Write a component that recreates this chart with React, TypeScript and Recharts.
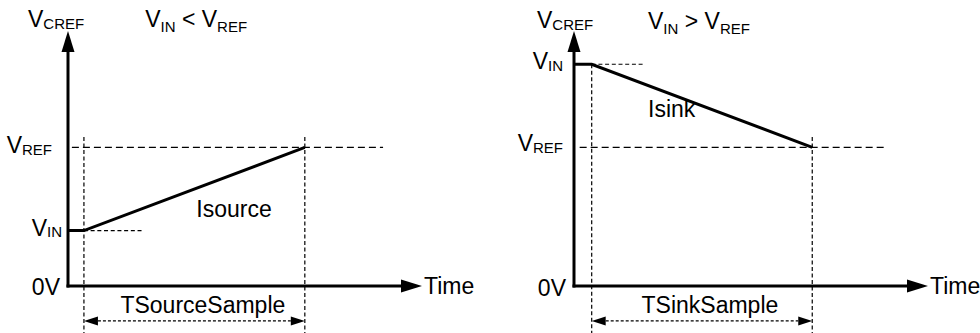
import React from 'react';
import { ComposedChart, Line, XAxis, YAxis, ReferenceLine, ReferenceDot } from 'recharts';

const FONT = '"Liberation Sans", Arial, Helvetica, sans-serif';
const MAIN_SIZE = 23;
const SUB_SIZE = 15;

// Shared value space (arbitrary units)
const TIME_MAX = 10;
const VOLT_MAX = 4.6;
const GUIDE_BOTTOM = -0.85;
const DIM_LEVEL = -0.63;

// Left panel: V_IN < V_REF (source current charges the node up)
const SOURCE_WAVE = [
  { t: 0, v: 1.0 },
  { t: 0.45, v: 1.0 },
  { t: 6.69, v: 2.5 },
];
const SOURCE_TICKS = [0, 1.0, 2.5];
const SOURCE_TICK_LABELS = [['0V', ''], ['V', 'IN'], ['V', 'REF']];
const SOURCE_VIN_GUIDE = [0.45, 2.12];
const SOURCE_VREF_GUIDE = [0.11, 8.9];
const SOURCE_SAMPLE = [0.45, 6.69];
const SOURCE_GUIDE_TOPS = [2.69, 2.69];
const SOURCE_TITLE = ['V', 'IN', ' < V', 'REF'];
const SOURCE_TITLE_AT = [2.18, 4.67];
const SOURCE_CURRENT = 'Isource';
const SOURCE_CURRENT_AT = [4.69, 1.25];
const SOURCE_SAMPLE_LABEL = 'TSourceSample';
const SOURCE_SAMPLE_LABEL_AT = [3.81, -0.49];

// Right panel: V_IN > V_REF (sink current discharges the node)
const SINK_WAVE = [
  { t: 0, v: 4.0 },
  { t: 0.5, v: 4.0 },
  { t: 6.73, v: 2.5 },
];
const SINK_TICKS = [0, 2.5, 4.0];
const SINK_TICK_LABELS = [['0V', ''], ['V', 'REF'], ['V', 'IN']];
const SINK_VIN_GUIDE = [0.5, 2.0];
const SINK_VREF_GUIDE = [0.16, 8.86];
const SINK_SAMPLE = [0.5, 6.73];
const SINK_GUIDE_TOPS = [4.0, 2.69];
const SINK_TITLE = ['V', 'IN', ' > V', 'REF'];
const SINK_TITLE_AT = [2.09, 4.64];
const SINK_CURRENT = 'Isink';
const SINK_CURRENT_AT = [2.76, 3.05];
const SINK_SAMPLE_LABEL = 'TSinkSample';
const SINK_SAMPLE_LABEL_AT = [3.84, -0.49];

const Y_NAME = ['V', 'CREF'];
const X_NAME = 'Time';

function headPoints(x: number, y: number, dx: number, dy: number, len: number, half: number) {
  const L = Math.hypot(dx, dy) || 1;
  const ux = dx / L;
  const uy = dy / L;
  const bx = x - ux * len;
  const by = y - uy * len;
  const px = -uy * half;
  const py = ux * half;
  return { pts: `${x},${y} ${bx + px},${by + py} ${bx - px},${by - py}`, bx, by };
}

const axisArrow = (p: any) => {
  const { x1, y1, x2, y2 } = p;
  const h = headPoints(x2, y2, x2 - x1, y2 - y1, 21, 6.5);
  const L = Math.hypot(x2 - x1, y2 - y1) || 1;
  const sx = x1 - ((x2 - x1) / L) * 1.5;
  const sy = y1 - ((y2 - y1) / L) * 1.5;
  return (
    <g>
      <line x1={sx} y1={sy} x2={h.bx} y2={h.by} stroke="#000" strokeWidth={3} />
      <polygon points={h.pts} fill="#000" />
    </g>
  );
};

const dimArrow = (p: any) => {
  const { x1, y1, x2, y2 } = p;
  const a = headPoints(x2, y2, x2 - x1, y2 - y1, 14, 4.5);
  const b = headPoints(x1, y1, x1 - x2, y1 - y2, 14, 4.5);
  return (
    <g>
      <line x1={b.bx} y1={b.by} x2={a.bx} y2={a.by} stroke="#000" strokeWidth={1.3} strokeDasharray="3 2" />
      <polygon points={a.pts} fill="#000" />
      <polygon points={b.pts} fill="#000" />
    </g>
  );
};

function textShape(content: React.ReactNode, dx: number, dy: number, anchor: string) {
  return (p: any) => (
    <text
      x={p.cx + dx}
      y={p.cy + dy}
      textAnchor={anchor}
      fontFamily={FONT}
      fontSize={MAIN_SIZE}
      fill="#000"
    >
      {content}
    </text>
  );
}

function subText(parts: string[], subDy: number) {
  const out: React.ReactNode[] = [];
  let shifted = 0;
  parts.forEach((s, i) => {
    const isSub = i % 2 === 1;
    const want = isSub ? subDy : 0;
    out.push(
      <tspan key={i} fontSize={isSub ? SUB_SIZE : MAIN_SIZE} dy={want - shifted}>
        {s}
      </tspan>
    );
    shifted = want;
  });
  return out;
}

type PanelProps = {
  width: number;
  marginRight: number;
  wave: { t: number; v: number }[];
  ticks: number[];
  tickLabels: string[][];
  tickDx: number[];
  tickDy: number[];
  vin: number;
  vref: number;
  vinGuide: number[];
  vrefGuide: number[];
  sample: number[];
  guideTops: number[];
  title: string[];
  titleAt: number[];
  current: string;
  currentAt: number[];
  sampleLabel: string;
  sampleLabelAt: number[];
  yNameDx: number;
  yNameDy: number;
};

function Panel(props: PanelProps) {
  const {
    width, marginRight, wave, ticks, tickLabels, tickDx, tickDy, vin, vref, vinGuide, vrefGuide,
    sample, guideTops, title, titleAt, current, currentAt, sampleLabel, sampleLabelAt, yNameDx, yNameDy,
  } = props;

  const renderTick = (p: any) => {
    const i = ticks.indexOf(p.payload.value);
    const [main, sub] = tickLabels[i];
    return (
      <text
        x={p.x + tickDx[i]}
        y={p.y + tickDy[i]}
        textAnchor="end"
        fontFamily={FONT}
        fontSize={MAIN_SIZE}
        fill="#000"
      >
        <tspan>{main}</tspan>
        {sub ? (
          <tspan fontSize={SUB_SIZE} dy={1.5}>
            {sub}
          </tspan>
        ) : null}
      </text>
    );
  };

  return (
    <ComposedChart
      width={width}
      height={333}
      data={wave}
      margin={{ top: 31, right: marginRight, bottom: 47, left: 0 }}
    >
      <XAxis type="number" dataKey="t" domain={[0, TIME_MAX]} hide allowDataOverflow />
      <YAxis
        type="number"
        domain={[0, VOLT_MAX]}
        ticks={ticks}
        interval={0}
        width={68}
        axisLine={false}
        tickLine={false}
        tickSize={0}
        tickMargin={0}
        allowDataOverflow
        tick={renderTick}
      />
      {/* V_REF dashed level */}
      <ReferenceLine
        segment={[{ x: vrefGuide[0], y: vref }, { x: vrefGuide[1], y: vref }]}
        stroke="#000"
        strokeWidth={1.3}
        strokeDasharray="7 4"
        ifOverflow="visible"
      />
      {/* V_IN dashed level */}
      <ReferenceLine
        segment={[{ x: vinGuide[0], y: vin }, { x: vinGuide[1], y: vin }]}
        stroke="#000"
        strokeWidth={1.2}
        strokeDasharray="4 2.7"
        ifOverflow="visible"
      />
      {/* sample window verticals */}
      <ReferenceLine
        segment={[{ x: sample[0], y: guideTops[0] }, { x: sample[0], y: GUIDE_BOTTOM }]}
        stroke="#000"
        strokeWidth={1.2}
        strokeDasharray="4 2.5"
        ifOverflow="visible"
      />
      <ReferenceLine
        segment={[{ x: sample[1], y: guideTops[1] }, { x: sample[1], y: GUIDE_BOTTOM }]}
        stroke="#000"
        strokeWidth={1.2}
        strokeDasharray="4 2.5"
        ifOverflow="visible"
      />
      {/* dimension arrow */}
      <ReferenceLine
        segment={[{ x: sample[0], y: DIM_LEVEL }, { x: sample[1], y: DIM_LEVEL }]}
        shape={dimArrow}
        ifOverflow="visible"
      />
      {/* axes */}
      <ReferenceLine
        segment={[{ x: 0, y: 0 }, { x: 0, y: VOLT_MAX }]}
        shape={axisArrow}
        ifOverflow="visible"
      />
      <ReferenceLine
        segment={[{ x: 0, y: 0 }, { x: TIME_MAX, y: 0 }]}
        shape={axisArrow}
        ifOverflow="visible"
      />
      <Line
        dataKey="v"
        type="linear"
        stroke="#000"
        strokeWidth={3}
        dot={false}
        activeDot={false}
        isAnimationActive={false}
      />
      {/* labels */}
      <ReferenceDot
        x={0}
        y={VOLT_MAX}
        ifOverflow="visible"
        shape={textShape(subText(Y_NAME, 2), yNameDx, yNameDy, 'start')}
      />
      <ReferenceDot
        x={TIME_MAX}
        y={0}
        ifOverflow="visible"
        shape={textShape(X_NAME, 2, 8, 'start')}
      />
      <ReferenceDot
        x={titleAt[0]}
        y={titleAt[1]}
        ifOverflow="visible"
        shape={textShape(subText(title, 5), 0, 0, 'start')}
      />
      <ReferenceDot
        x={currentAt[0]}
        y={currentAt[1]}
        ifOverflow="visible"
        shape={textShape(current, 0, 0, 'middle')}
      />
      <ReferenceDot
        x={sampleLabelAt[0]}
        y={sampleLabelAt[1]}
        ifOverflow="visible"
        shape={textShape(sampleLabel, 0, 0, 'middle')}
      />
    </ComposedChart>
  );
}

export default function App() {
  return (
    <div style={{ position: 'absolute', left: 0, top: 0, width: 980, height: 333, background: '#fff' }}>
      <div style={{ position: 'absolute', left: 0, top: 0 }}>
        <Panel
          width={506}
          marginRight={84}
          wave={SOURCE_WAVE}
          ticks={SOURCE_TICKS}
          tickLabels={SOURCE_TICK_LABELS}
          tickDx={[-8, -6, -16]}
          tickDy={[9, 5, 6]}
          vin={SOURCE_WAVE[0].v}
          vref={SOURCE_WAVE[2].v}
          vinGuide={SOURCE_VIN_GUIDE}
          vrefGuide={SOURCE_VREF_GUIDE}
          sample={SOURCE_SAMPLE}
          guideTops={SOURCE_GUIDE_TOPS}
          title={SOURCE_TITLE}
          titleAt={SOURCE_TITLE_AT}
          current={SOURCE_CURRENT}
          currentAt={SOURCE_CURRENT_AT}
          sampleLabel={SOURCE_SAMPLE_LABEL}
          sampleLabelAt={SOURCE_SAMPLE_LABEL_AT}
          yNameDx={-40}
          yNameDy={-4}
        />
      </div>
      <div style={{ position: 'absolute', left: 506, top: 0 }}>
        <Panel
          width={474}
          marginRight={52}
          wave={SINK_WAVE}
          ticks={SINK_TICKS}
          tickLabels={SINK_TICK_LABELS}
          tickDx={[-8, -11, -11]}
          tickDy={[10, 4, 5]}
          vin={SINK_WAVE[0].v}
          vref={SINK_WAVE[2].v}
          vinGuide={SINK_VIN_GUIDE}
          vrefGuide={SINK_VREF_GUIDE}
          sample={SINK_SAMPLE}
          guideTops={SINK_GUIDE_TOPS}
          title={SINK_TITLE}
          titleAt={SINK_TITLE_AT}
          current={SINK_CURRENT}
          currentAt={SINK_CURRENT_AT}
          sampleLabel={SINK_SAMPLE_LABEL}
          sampleLabelAt={SINK_SAMPLE_LABEL_AT}
          yNameDx={-37}
          yNameDy={-3}
        />
      </div>
    </div>
  );
}
